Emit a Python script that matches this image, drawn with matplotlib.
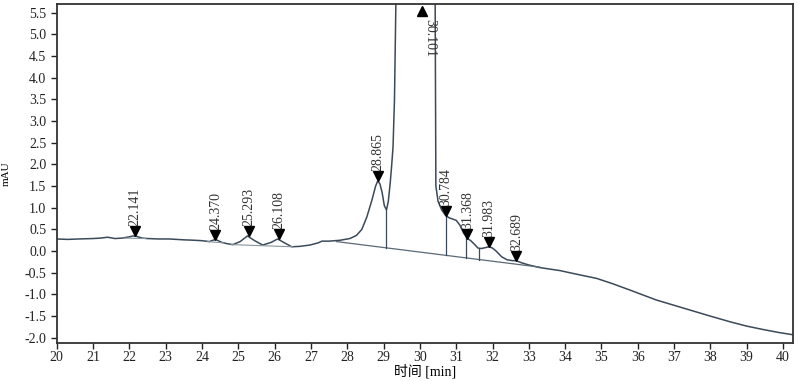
import matplotlib
matplotlib.use("Agg")
import matplotlib.pyplot as plt
import matplotlib.transforms as mtransforms
import numpy as np

plt.rcParams['font.family'] = ['Liberation Serif', 'Noto Sans CJK SC', 'DejaVu Sans']
plt.rcParams['axes.unicode_minus'] = False

# chromatogram trace (min, mAU)
t = [20.0, 20.3, 20.6, 21.0, 21.2, 21.4, 21.6, 21.8, 22.0, 22.1, 22.2, 22.35, 22.5,
     22.8, 23.1, 23.5, 23.8, 24.0, 24.2, 24.37, 24.55, 24.7, 24.85, 25.05, 25.25,
     25.45, 25.67, 25.9, 26.08, 26.25, 26.47, 26.7, 26.97, 27.2, 27.3, 27.5, 27.8,
     28.07, 28.25, 28.4, 28.54, 28.68, 28.78, 28.84, 28.9, 28.96, 29.02, 29.08,
     29.13, 29.18, 29.22, 29.26, 29.3, 29.34, 29.4, 29.6, 29.9, 30.2, 30.38, 30.42,
     30.44, 30.5, 30.6, 30.7, 30.8, 30.9, 31.0, 31.1, 31.2, 31.3, 31.4, 31.5, 31.6,
     31.7, 31.8, 31.9, 32.0, 32.1, 32.25, 32.4, 32.55, 32.65, 32.8, 33.0, 33.3,
     33.86, 34.3, 34.87, 35.3, 35.79, 36.2, 36.52, 37.0, 37.44, 38.0, 38.54, 39.0,
     39.46, 39.9, 40.28]
v = [0.28, 0.27, 0.28, 0.29, 0.30, 0.32, 0.29, 0.30, 0.33, 0.35, 0.34, 0.30, 0.29,
     0.28, 0.28, 0.26, 0.25, 0.24, 0.22, 0.27, 0.20, 0.17, 0.15, 0.22, 0.35,
     0.24, 0.14, 0.20, 0.28, 0.20, 0.10, 0.11, 0.14, 0.19, 0.23, 0.23, 0.25,
     0.29, 0.36, 0.50, 0.79, 1.18, 1.50, 1.62, 1.55, 1.35, 1.05, 0.95,
     1.15, 1.55, 1.95, 2.40, 3.50, 5.80, 9.0, 15.0, 18.0, 14.0, 8.0, 5.8,
     1.50, 1.15, 0.95, 0.83, 0.77, 0.74, 0.71, 0.60, 0.42, 0.30, 0.24, 0.16, 0.07,
     0.06, 0.08, 0.10, 0.07, 0.00, -0.13, -0.20, -0.22, -0.22, -0.27, -0.32, -0.38,
     -0.45, -0.53, -0.63, -0.75, -0.90, -1.03, -1.13, -1.25, -1.36, -1.50, -1.63, -1.73,
     -1.81, -1.88, -1.93]

# labelled peaks: retention time, height of arrow tip
peak_labels = ['22.141', '24.370', '25.293', '26.108', '28.865', '30.784', '31.368', '31.983', '32.689']
peak_t = [22.141, 24.370, 25.293, 26.108, 28.84, 30.72, 31.31, 31.91, 32.66]
peak_v = [0.35, 0.27, 0.35, 0.28, 1.62, 0.82, 0.29, 0.10, -0.22]
top_label = '30.101'
top_t = 30.05

# integration baseline and drop lines
base_t = [27.7, 33.3]
base_v = [0.22, -0.37]
drop_t = [29.06, 30.71, 31.26, 31.63]
drop_v = [0.95, 0.82, 0.35, 0.06]
small_bases = [([21.85, 22.45], [0.30, 0.29]),
               ([24.15, 24.6], [0.22, 0.19]),
               ([24.8, 26.5], [0.15, 0.10])]

line_c = '#3b4a5a'
fig = plt.figure(figsize=(8, 3.81), dpi=100)
ax = fig.add_axes([0.071, 0.0997, 0.92, 0.8898])

ax.plot(t, v, color=line_c, lw=1.1)
ax.plot(base_t, base_v, color='#5b6a78', lw=0.9)
for bt, bv in small_bases:
    ax.plot(bt, bv, color='#8895a0', lw=0.8)
for dt, dv in zip(drop_t, drop_v):
    ax.plot([dt, dt], [np.interp(dt, base_t, base_v), dv], color=line_c, lw=0.9)

tri = mtransforms.offset_copy(ax.transData, fig=fig, y=3.5, units='points')
for lab, pt, pv in zip(peak_labels, peak_t, peak_v):
    ax.plot(pt, pv, marker='v', color='black', markersize=7, transform=tri)
    ax.annotate(lab, (pt, pv), xytext=(0, 7), textcoords='offset points',
                rotation=90, ha='center', va='bottom', fontsize=10, color='#333333')

top_tr = mtransforms.blended_transform_factory(ax.transData, ax.transAxes)
ax.plot(top_t, 0.978, marker='^', color='black', markersize=7, transform=top_tr)
ax.text(top_t + 0.22, 0.955, top_label, rotation=270, ha='center', va='top',
        fontsize=10, color='#333333', transform=top_tr)

ax.set_xlim(20, 40.27)
ax.set_ylim(-2.12, 5.7)
ax.set_xticks(range(20, 41))
ax.set_yticks(np.arange(-2.0, 5.51, 0.5))
ax.set_yticklabels([f'{y:.1f}' for y in np.arange(-2.0, 5.51, 0.5)])
ax.tick_params(direction='out', length=4, width=1, labelsize=10, colors='#222222')
ax.tick_params(axis='x', pad=2)
for s in ax.spines.values():
    s.set_linewidth(1.3)
    s.set_color('#333333')

ax.set_xlabel('时间 [min]', fontsize=10, labelpad=0)
ax.set_ylabel('mAU', fontsize=8)
ax.yaxis.set_label_coords(-0.063, 0.5)

fig.savefig('out.png', dpi=100)
